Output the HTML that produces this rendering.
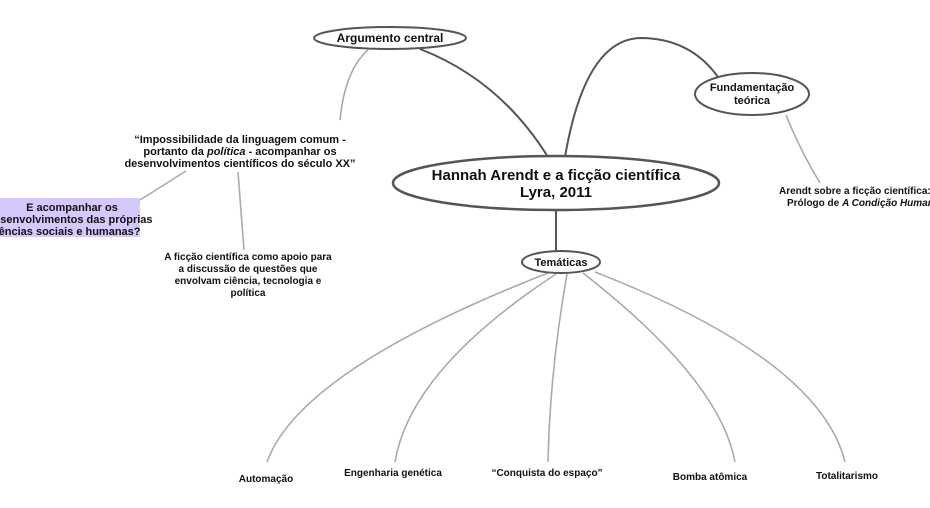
<!DOCTYPE html>
<html><head><meta charset="utf-8"><style>
html,body{margin:0;padding:0;background:#fff;}
svg{display:block;font-family:"Liberation Sans",Arial,sans-serif;font-weight:bold;}
</style></head><body>
<svg width="930" height="508" viewBox="0 0 930 508" xmlns="http://www.w3.org/2000/svg">
<g fill="none" stroke="#555" stroke-width="2">
<path d="M420,49 Q500,80 548,157"/>
<path d="M565,157 Q585,40 640,38 Q690,38 718,77"/>
<path d="M556,210 L556,251"/>
</g>
<g fill="none" stroke="#aaa" stroke-width="1.6">
<path d="M368,50 Q345,70 340,120"/>
<path d="M786,115 Q800,150 820,183"/>
<path d="M186,171 L140,200"/>
<path d="M238,172 L244,250"/>
<path d="M548,273 Q300,370 267,462"/>
<path d="M556,274 Q410,370 395,462"/>
<path d="M567,274 Q550,370 548,462"/>
<path d="M583,273 Q720,380 735,462"/>
<path d="M595,272 Q820,360 845,462"/>
</g>
<g fill="#fff" stroke="#555" stroke-width="2">
<ellipse cx="390" cy="38" rx="76" ry="11"/>
<ellipse cx="556" cy="183" rx="163" ry="27" stroke-width="2.5"/>
<ellipse cx="752" cy="94" rx="57" ry="21"/>
<ellipse cx="561" cy="262" rx="39" ry="11"/>
</g>
<rect x="0" y="198" width="140" height="39" fill="#d4c8fc"/>
<g font-size="11" text-anchor="middle" fill="#111">
<text x="390" y="42" font-size="12">Argumento central</text>
<text x="556" y="180" font-size="15">Hannah Arendt e a ficção científica</text>
<text x="556" y="197" font-size="15">Lyra, 2011</text>
<text x="752" y="91">Fundamentação</text>
<text x="752" y="104">teórica</text>
<text x="561" y="266">Temáticas</text>
<text x="240" y="143">“Impossibilidade da linguagem comum -</text>
<text x="240" y="155">portanto da <tspan font-style="italic">política</tspan> - acompanhar os</text>
<text x="240" y="167">desenvolvimentos científicos do século XX”</text>
<text x="72" y="211">E acompanhar os</text>
<text x="70" y="223">desenvolvimentos das próprias</text>
<text x="65" y="235">ciências sociais e humanas?</text>
<text x="248" y="260" font-size="10">A ficção científica como apoio para</text>
<text x="248" y="272" font-size="10">a discussão de questões que</text>
<text x="248" y="284" font-size="10">envolvam ciência, tecnologia e</text>
<text x="248" y="296" font-size="10">política</text>
<text x="266" y="482" font-size="10">Automação</text>
<text x="393" y="476" font-size="10">Engenharia genética</text>
<text x="547" y="476" font-size="10">“Conquista do espaço”</text>
<text x="710" y="480" font-size="10">Bomba atômica</text>
<text x="847" y="479" font-size="10">Totalitarismo</text>
</g>
<g font-size="10" fill="#111">
<text x="779" y="194">Arendt sobre a ficção científica:</text>
<text x="787" y="206">Prólogo de <tspan font-style="italic">A Condição Humana</tspan></text>
</g>
</svg>
</body></html>
